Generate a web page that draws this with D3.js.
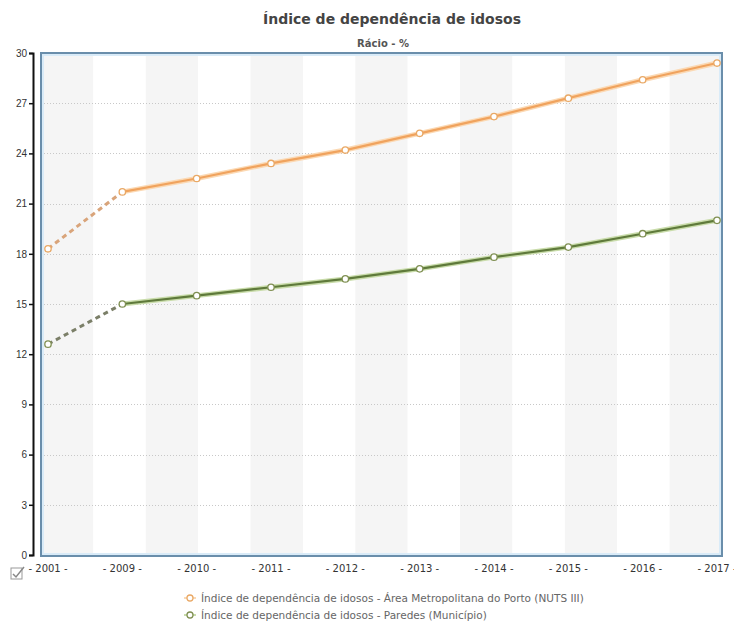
<!DOCTYPE html>
<html>
<head>
<meta charset="utf-8">
<script src="https://cdn.jsdelivr.net/npm/d3@7"></script>
<style>
  body { margin: 0; background: #fff; }
  svg { display: block; font-family: "DejaVu Sans", Verdana, sans-serif; }
</style>
</head>
<body>
<div class="container"></div>
<script>
const WIDTH = 734;
const HEIGHT = 621;

var years = ["2001", "2009", "2010", "2011", "2012", "2013", "2014", "2015", "2016", "2017"];
var porto = [18.3, 21.7, 22.5, 23.4, 24.2, 25.2, 26.2, 27.3, 28.4, 29.4];
var paredes = [12.6, 15.0, 15.5, 16.0, 16.5, 17.1, 17.8, 18.4, 19.2, 20.0];
var yTicks = [0, 3, 6, 9, 12, 15, 18, 21, 24, 27, 30];
var seriesNames = [
    "Índice de dependência de idosos - Área Metropolitana do Porto (NUTS III)",
    "Índice de dependência de idosos - Paredes (Município)"
];
var series = [
    {name: seriesNames[0], values: porto, line: "#f0a35e", glow: "#fbd9b4", dash: "#d9a47a", marker: "#e9a865"},
    {name: seriesNames[1], values: paredes, line: "#5f7a3b", glow: "#c9dcaa", dash: "#7b7f68", marker: "#7f8f52"}
];

var load = function(){
    var svg = d3.select(".container")
        .append("svg")
        .attr("width", WIDTH)
        .attr("height", HEIGHT);

    var plot = {left: 41, right: 722, top: 53, bottom: 556};

    var x = d3.scalePoint()
        .domain(years)
        .range([48, 717]);

    var y = d3.scaleLinear()
        .domain([0, 30])
        .range([555, 53]);

    // alternating background stripes
    var bands = d3.scaleBand()
        .domain(d3.range(13))
        .range([plot.left, plot.right]);

    svg.append("g").selectAll("rect")
        .data(bands.domain())
        .enter()
        .append("rect")
        .attr("x", function(d){ return bands(d)})
        .attr("y", plot.top)
        .attr("width", bands.bandwidth())
        .attr("height", plot.bottom - plot.top)
        .style("fill", function(d){ return d % 2 == 0 ? "#f5f5f5" : "#ffffff"});

    // dotted grid
    svg.append("g").selectAll("line")
        .data(yTicks.filter(function(d){ return d > 0 && d < 30}))
        .enter()
        .append("line")
        .attr("x1", plot.left)
        .attr("x2", plot.right)
        .attr("y1", function(d){ return Math.round(y(d)) + 0.5})
        .attr("y2", function(d){ return Math.round(y(d)) + 0.5})
        .style("stroke", "#c8c8c8")
        .style("stroke-dasharray", "1,2");

    // plot frame
    svg.append("rect")
        .attr("x", plot.left + 2)
        .attr("y", plot.top + 2)
        .attr("width", plot.right - plot.left - 4)
        .attr("height", plot.bottom - plot.top - 4)
        .style("fill", "none")
        .style("stroke", "#d9ebf8")
        .style("stroke-width", 2);
    svg.append("rect")
        .attr("x", plot.left)
        .attr("y", plot.top)
        .attr("width", plot.right - plot.left)
        .attr("height", plot.bottom - plot.top)
        .style("fill", "none")
        .style("stroke", "#6a8eab")
        .style("stroke-width", 2);

    // y axis
    var yAxis = svg.append("g")
        .attr("transform", "translate(33,0)")
        .call(d3.axisLeft(y).tickValues(yTicks).tickSize(4).tickPadding(2));
    yAxis.select(".domain").style("stroke", "#111").style("stroke-width", 2);
    yAxis.selectAll(".tick line").style("stroke", "#111").style("stroke-width", 1.5);
    yAxis.selectAll("text")
        .style("font-size", "10px")
        .style("fill", "#333");

    // x labels
    svg.append("g").selectAll("text")
        .data(years)
        .enter()
        .append("text")
        .attr("x", function(d){ return x(d)})
        .attr("y", 572)
        .attr("text-anchor", "middle")
        .style("font-size", "10px")
        .style("fill", "#333")
        .text(function(d){ return "- " + d + " -"});

    // series
    series.forEach(function(s){
        var g = svg.append("g");
        var dashed = d3.line()
            .x(function(d, i){ return x(years[i])})
            .y(function(d){ return y(d)});
        g.append("path")
            .attr("d", dashed(s.values.slice(0, 2)))
            .style("fill", "none")
            .style("stroke", s.dash)
            .style("stroke-width", 3)
            .style("stroke-dasharray", "5,4");
        var solid = d3.line()
            .x(function(d, i){ return x(years[i + 1])})
            .y(function(d){ return y(d)});
        var rest = s.values.slice(1);
        g.append("path")
            .attr("d", solid(rest))
            .style("fill", "none")
            .style("stroke", s.glow)
            .style("stroke-width", 5);
        g.append("path")
            .attr("d", solid(rest))
            .style("fill", "none")
            .style("stroke", s.line)
            .style("stroke-width", 2.2);
        g.selectAll("circle")
            .data(s.values)
            .enter()
            .append("circle")
            .attr("cx", function(d, i){ return x(years[i])})
            .attr("cy", function(d){ return y(d)})
            .attr("r", 3.2)
            .style("fill", "#fff")
            .style("stroke", s.marker)
            .style("stroke-width", 1.3);
    });

    // titles
    svg.append("text")
        .attr("x", 392)
        .attr("y", 24)
        .attr("text-anchor", "middle")
        .style("font-weight", "bold")
        .style("font-size", "14px")
        .style("fill", "#444")
        .text("Índice de dependência de idosos");
    svg.append("text")
        .attr("x", 383)
        .attr("y", 47)
        .attr("text-anchor", "middle")
        .style("font-weight", "bold")
        .style("font-size", "10px")
        .style("fill", "#555")
        .text("Rácio - %");

    // checkbox icon
    var cb = svg.append("g").attr("transform", "translate(11,568)");
    cb.append("rect")
        .attr("width", 11).attr("height", 11)
        .style("fill", "#fff").style("stroke", "#999");
    cb.append("path")
        .attr("d", "M2,6 L5,9 L13,-1")
        .style("fill", "none").style("stroke", "#888").style("stroke-width", 1.5);

    // legend
    var legend = svg.append("g").selectAll("g")
        .data(series)
        .enter()
        .append("g")
        .attr("transform", function(d, i){ return "translate(184," + (598 + i * 17) + ")"});
    legend.append("line")
        .attr("x1", 0).attr("x2", 12)
        .style("stroke", function(d){ return d.glow})
        .style("stroke-width", 2);
    legend.append("circle")
        .attr("cx", 6).attr("r", 3)
        .style("fill", "#fff")
        .style("stroke", function(d){ return d.marker})
        .style("stroke-width", 1.3);
    legend.append("text")
        .attr("x", 17)
        .attr("y", 3.5)
        .style("font-size", "10.5px")
        .style("fill", "#666")
        .text(function(d){ return d.name});
};

window.onload = load;
</script>
</body>
</html>
